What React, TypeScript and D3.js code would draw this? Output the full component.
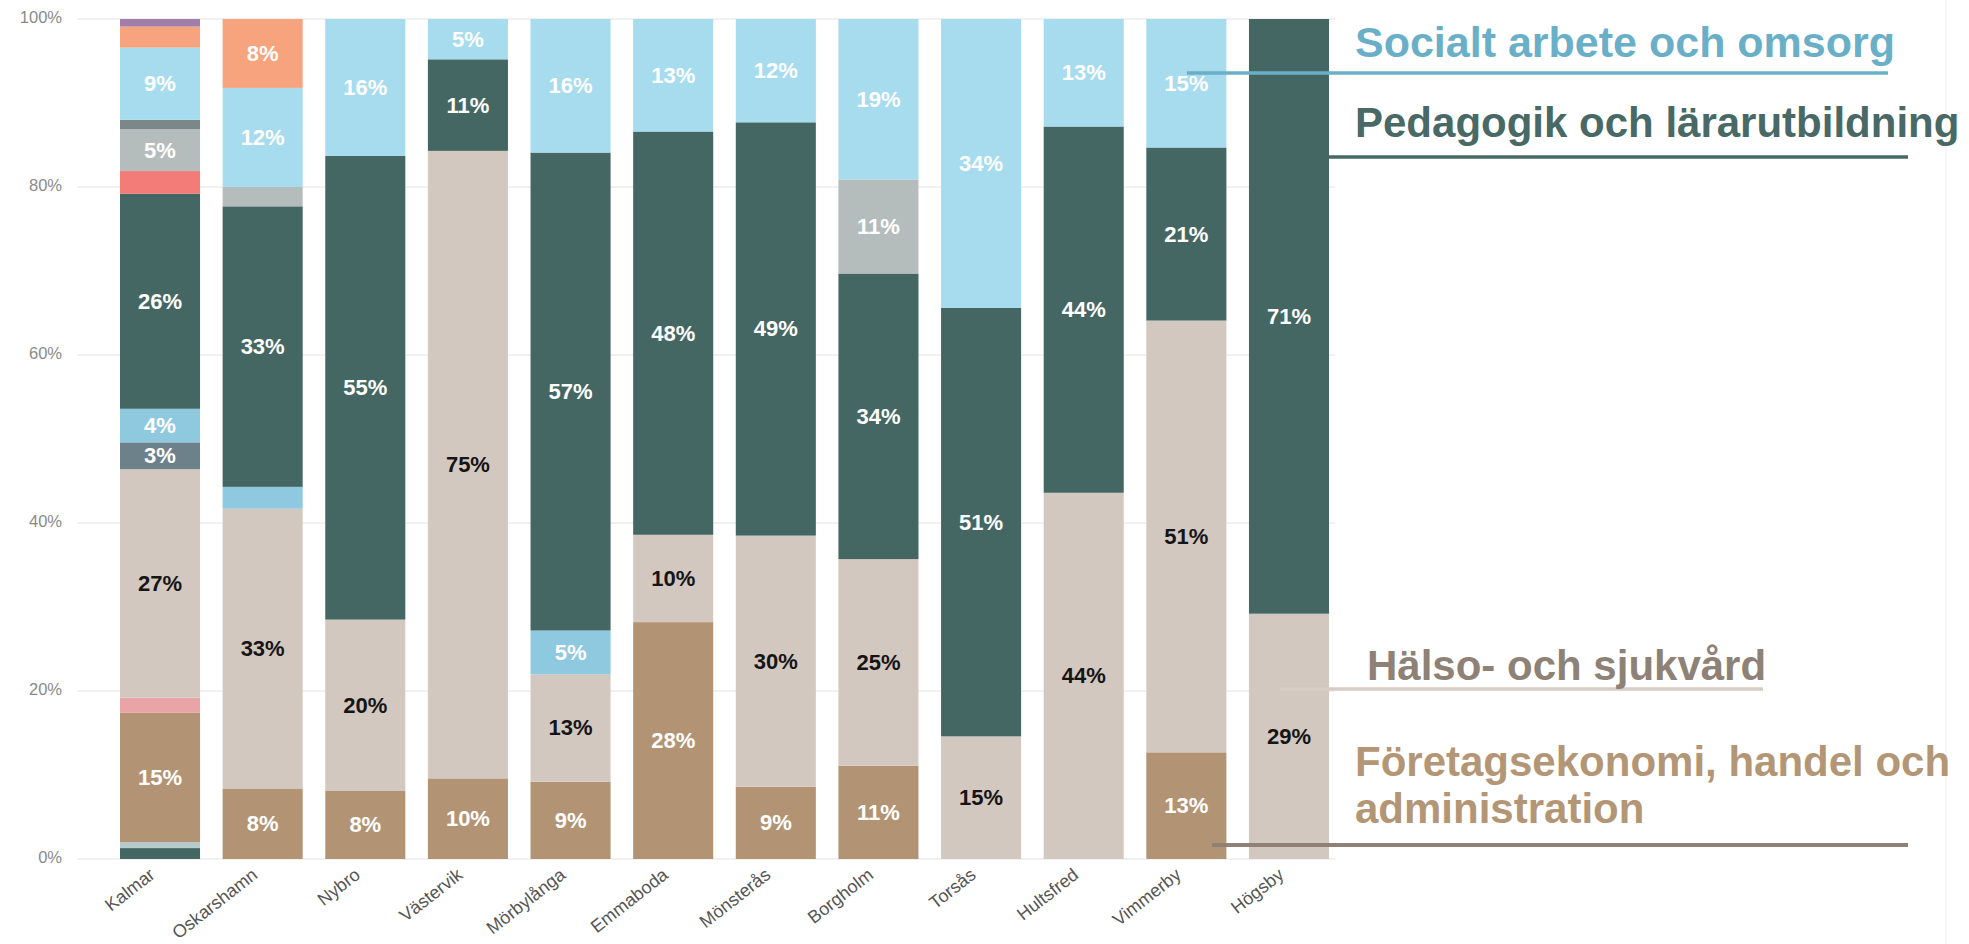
import React from "react";
import * as d3 from "d3";

const categories = ["Kalmar", "Oskarshamn", "Nybro", "Västervik", "Mörbylånga", "Emmaboda", "Mönsterås", "Borgholm", "Torsås", "Hultsfred", "Vimmerby", "Högsby"];

// series, stacked bottom -> top (percent of each municipality)
const seriesKeys = ["bottomTeal", "thinLight", "foretag", "pink", "halso", "slate", "midBlue", "pedagogik", "red", "lightGray", "darkGray", "socialt", "orange", "purple"];
const bottomTeal = [1.3, 0, 0, 0, 0, 0, 0, 0, 0, 0, 0, 0];
const thinLight = [0.7, 0, 0, 0, 0, 0, 0, 0, 0, 0, 0, 0];
const foretag = [15.4, 8.4, 8.1, 9.6, 9.2, 28.2, 8.6, 11.1, 0, 0, 12.7, 0];
const pink = [1.8, 0, 0, 0, 0, 0, 0, 0, 0, 0, 0, 0];
const halso = [27.2, 33.3, 20.4, 74.7, 12.8, 10.4, 29.9, 24.6, 14.6, 43.6, 51.4, 29.2];
const slate = [3.2, 0, 0, 0, 0, 0, 0, 0, 0, 0, 0, 0];
const midBlue = [4.0, 2.6, 0, 0, 5.2, 0, 0, 0, 0, 0, 0, 0];
const pedagogik = [25.6, 33.4, 55.2, 10.9, 56.9, 48.0, 49.2, 34.0, 51.0, 43.6, 20.6, 70.8];
const red = [2.7, 0, 0, 0, 0, 0, 0, 0, 0, 0, 0, 0];
const lightGray = [5.0, 2.3, 0, 0, 0, 0, 0, 11.2, 0, 0, 0, 0];
const darkGray = [1.1, 0, 0, 0, 0, 0, 0, 0, 0, 0, 0, 0];
const socialt = [8.6, 11.8, 16.3, 4.8, 15.9, 13.4, 12.3, 19.1, 34.4, 12.8, 15.3, 0];
const orange = [2.5, 8.2, 0, 0, 0, 0, 0, 0, 0, 0, 0, 0];
const purple = [0.9, 0, 0, 0, 0, 0, 0, 0, 0, 0, 0, 0];

const seriesValues: Record<string, number[]> = {
  bottomTeal, thinLight, foretag, pink, halso, slate, midBlue, pedagogik, red, lightGray, darkGray, socialt, orange, purple,
};

const seriesColors: Record<string, string> = {
  bottomTeal: "#456764",
  thinLight: "#b6cbcb",
  foretag: "#b29474",
  pink: "#e9a4a8",
  halso: "#d3c8bf",
  slate: "#6d818b",
  midBlue: "#8fc9df",
  pedagogik: "#456764",
  red: "#f37b78",
  lightGray: "#b4bcbc",
  darkGray: "#7c8888",
  socialt: "#a6dcee",
  orange: "#f6a37e",
  purple: "#a17ea9",
};

const yTicks = [0, 0.2, 0.4, 0.6, 0.8, 1.0];

const annotationTexts = [
  "Socialt arbete och omsorg",
  "Pedagogik och lärarutbildning",
  "Hälso- och sjukvård",
  "Företagsekonomi, handel och",
  "administration",
];

const FONT = "'Liberation Sans', Arial, sans-serif";

export default function App() {
  const W = 1969;
  const H = 944;

  const table = categories.map((c, i) => {
    const row: Record<string, any> = { category: c };
    seriesKeys.forEach((k) => (row[k] = seriesValues[k][i]));
    return row;
  });

  const stacked = d3
    .stack<Record<string, any>>()
    .keys(seriesKeys)
    .offset(d3.stackOffsetExpand)(table);

  const x = d3
    .scaleBand<string>()
    .domain(categories)
    .range([108.7, 1340.3])
    .paddingInner(0.22)
    .paddingOuter(0.11);

  const y = d3.scaleLinear().domain([0, 1]).range([859, 19]);

  return (
    <svg
      width={W}
      height={H}
      viewBox={`0 0 ${W} ${H}`}
      style={{ position: "absolute", left: 0, top: 0, background: "#ffffff" }}
    >
      <rect x={0} y={0} width={W} height={H} fill="#ffffff" />
      <line x1={1946} x2={1946} y1={0} y2={H} stroke="#f1f1f1" strokeWidth={1} />

      {/* gridlines + y ticks */}
      {yTicks.map((t) => (
        <g key={t}>
          <line x1={77} x2={1335} y1={y(t)} y2={y(t)} stroke="#ececec" strokeWidth={1.5} />
          <text
            x={62}
            y={y(t)}
            textAnchor="end"
            dominantBaseline="middle"
            fontFamily={FONT}
            fontSize={16.5}
            fill="#8a8a8a"
          >
            {d3.format(".0%")(t)}
          </text>
        </g>
      ))}

      {/* bars */}
      {stacked.map((layer) => (
        <g key={layer.key} fill={seriesColors[layer.key]}>
          {layer.map((d, i) => {
            const h = y(d[0]) - y(d[1]);
            if (h <= 0) return null;
            return (
              <rect
                key={i}
                x={x(categories[i])}
                y={y(d[1])}
                width={x.bandwidth()}
                height={h}
              />
            );
          })}
        </g>
      ))}

      {/* value labels */}
      {stacked.map((layer) => (
        <g key={"l" + layer.key}>
          {layer.map((d, i) => {
            const v = (d[1] - d[0]) * 100;
            if (v < 3) return null;
            const cx = (x(categories[i]) as number) + x.bandwidth() / 2;
            const cy = (y(d[0]) + y(d[1])) / 2;
            return (
              <text
                key={i}
                x={cx}
                y={cy}
                textAnchor="middle"
                dominantBaseline="central"
                fontFamily={FONT}
                fontWeight="bold"
                fontSize={22}
                fill={layer.key === "halso" ? "#151515" : "#ffffff"}
              >
                {Math.round(v) + "%"}
              </text>
            );
          })}
        </g>
      ))}

      {/* x labels */}
      {categories.map((c) => {
        const cx = (x(c) as number) + x.bandwidth() / 2 - 4;
        const cy = 877;
        return (
          <text
            key={c}
            transform={`translate(${cx},${cy}) rotate(-38)`}
            textAnchor="end"
            fontFamily={FONT}
            fontSize={18}
            fill="#555555"
          >
            {c}
          </text>
        );
      })}

      {/* annotations */}
      <line x1={1187} x2={1888} y1={73} y2={73} stroke="#6aafc8" strokeWidth={3.5} />
      <text x={1355} y={57} fontFamily={FONT} fontWeight="bold" fontSize={43} fill="#6aafc8">
        {annotationTexts[0]}
      </text>

      <line x1={1329} x2={1908} y1={157} y2={157} stroke="#486966" strokeWidth={3.5} />
      <text x={1355} y={137} fontFamily={FONT} fontWeight="bold" fontSize={42} fill="#486966">
        {annotationTexts[1]}
      </text>

      <line x1={1280} x2={1763} y1={689} y2={689} stroke="#d6cdc5" strokeWidth={3.5} />
      <text x={1367} y={680} fontFamily={FONT} fontWeight="bold" fontSize={42} fill="#8e8176">
        {annotationTexts[2]}
      </text>

      <line x1={1212} x2={1908} y1={845} y2={845} stroke="#8f8176" strokeWidth={4} />
      <text x={1355} y={776} fontFamily={FONT} fontWeight="bold" fontSize={42} fill="#b39675">
        {annotationTexts[3]}
      </text>
      <text x={1355} y={823} fontFamily={FONT} fontWeight="bold" fontSize={42} fill="#b39675">
        {annotationTexts[4]}
      </text>
    </svg>
  );
}
